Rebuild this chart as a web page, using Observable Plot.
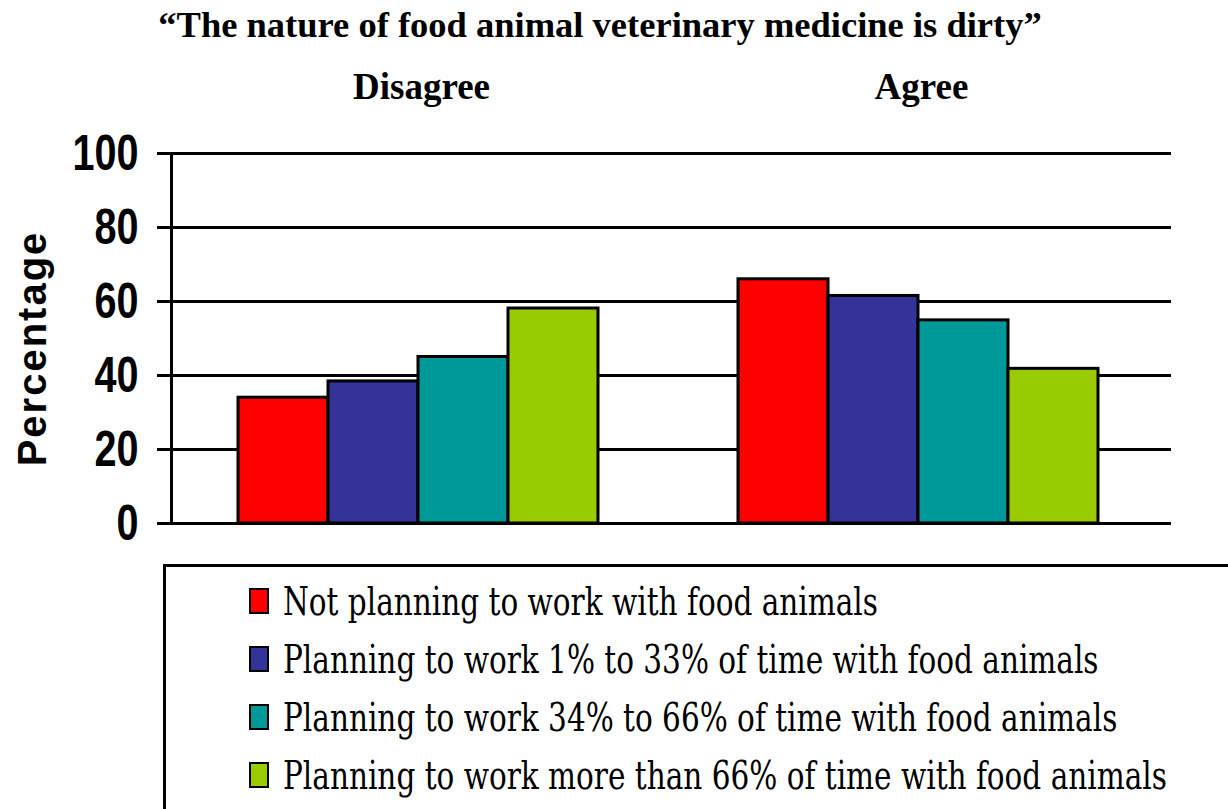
<!DOCTYPE html>
<html><head><meta charset="utf-8">
<script src="https://cdn.jsdelivr.net/npm/d3@7"></script>
<script src="https://cdn.jsdelivr.net/npm/@observablehq/plot@0.6"></script>
<style>
body{margin:0;background:#fff;width:1228px;height:809px;overflow:hidden;position:relative;}
#title{position:absolute;left:0;width:1200px;top:3px;text-align:center;font-family:"Liberation Serif","Times New Roman",serif;font-weight:bold;font-size:36.5px;line-height:44px;}
#chart{position:absolute;left:0;top:60px;}
#legend{position:absolute;left:163px;top:564px;width:1100px;height:300px;border:3px solid #000;box-sizing:border-box;}
.lrow{position:absolute;left:83px;height:58px;display:flex;align-items:center;white-space:nowrap;}
.sw{width:16px;height:22px;border:2px solid #000;margin-right:14px;flex:none;}
.ltext{font-family:"DejaVu Serif",serif;font-size:40px;font-weight:400;display:inline-block;transform-origin:0 50%;transform:scaleX(0.738);color:#000;}
</style></head>
<body>
<div id="title"></div>
<div id="chart"></div>
<div id="legend"></div>
<script>
const titleText = "\u201CThe nature of food animal veterinary medicine is dirty\u201D";
const responses = ["Disagree", "Agree"];
const groups = [
  "Not planning to work with food animals",
  "Planning to work 1% to 33% of time with food animals",
  "Planning to work 34% to 66% of time with food animals",
  "Planning to work more than 66% of time with food animals"
];
const colors = ["#FF0000", "#333399", "#009999", "#99CC00"];
const disagree = [34, 38.4, 45, 58.1];
const agree = [66, 61.5, 54.9, 41.8];
const yTicks = [0, 20, 40, 60, 80, 100];
const yLabel = "Percentage";

const values = [disagree, agree];
const data = [];
responses.forEach((r, i) => groups.forEach((g, j) => data.push({response: r, group: g, value: values[i][j]})));

document.getElementById("title").textContent = titleText;

const chart = Plot.plot({
  width: 1228, height: 500,
  marginLeft: 170, marginRight: 57, marginTop: 93, marginBottom: 37,
  style: {fontFamily: '"Liberation Sans", Arial, sans-serif', background: "#fff", color: "#000"},
  fx: {domain: responses, padding: 0},
  x: {domain: groups, paddingInner: 0, paddingOuter: 0.7625, align: 0.48, axis: null},
  y: {domain: [0, 100]},
  color: {domain: groups, range: colors},
  marks: [
    Plot.ruleY(yTicks, {stroke: "#000", strokeWidth: 3}),
    Plot.barY(data, {fx: "response", x: "group", y: "value", fill: "group", stroke: "#000", strokeWidth: 3}),
    Plot.frame({anchor: "left", facetAnchor: "left", stroke: "#000", strokeWidth: 3}),
    Plot.axisY({ticks: yTicks, tickSize: 14, tickPadding: 19, strokeWidth: 3, fontSize: 50, fontWeight: "bold", label: null}),
    Plot.axisFx({anchor: "top", tickSize: 0, tickPadding: 55, label: null, fontSize: 37, fontWeight: "bold", fontFamily: '"Liberation Serif", "Times New Roman", serif'}),
    Plot.text([{fx: responses[0], t: yLabel}], {fx: "fx", text: "t", frameAnchor: "left", textAnchor: "middle", rotate: -90, dx: -138, dy: 10, fontSize: 40, fontWeight: "bold"})
  ]
});
document.getElementById("chart").appendChild(chart);

// condense y tick labels like the reference
d3.select(chart).selectAll('g[aria-label="y-axis tick label"] text').each(function() {
  const n = this.textContent.length;
  this.setAttribute("textLength", n * 22);
  this.setAttribute("lengthAdjust", "spacingAndGlyphs");
});
d3.select(chart).selectAll('g[aria-label="text"] text').style("letter-spacing", "2px");

const legend = document.getElementById("legend");
groups.forEach((g, i) => {
  const row = document.createElement("div");
  row.className = "lrow";
  row.style.top = (5 + i * 58) + "px";
  const sw = document.createElement("div");
  sw.className = "sw";
  sw.style.background = colors[i];
  const t = document.createElement("span");
  t.className = "ltext";
  t.textContent = g;
  row.appendChild(sw); row.appendChild(t);
  legend.appendChild(row);
});
</script>
</body></html>
